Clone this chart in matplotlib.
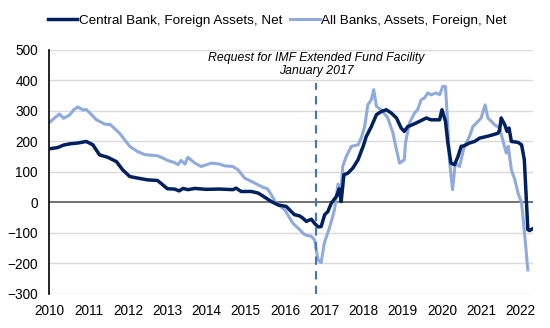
import matplotlib.pyplot as plt

plt.rcParams['font.family'] = ['Liberation Sans', 'DejaVu Sans']

# Central Bank, Foreign Assets, Net (date as decimal year, value)
cb_dates = [2010.0, 2010.2, 2010.35, 2010.5, 2010.72, 2010.93, 2011.1, 2011.27, 2011.48, 2011.7,
            2011.86, 2012.04, 2012.24, 2012.5, 2012.75, 2012.88, 2013.0, 2013.18, 2013.3, 2013.4,
            2013.52, 2013.7, 2014.0, 2014.33, 2014.67, 2014.75, 2014.88, 2015.14, 2015.31, 2015.4,
            2015.52, 2015.65, 2015.82, 2016.03, 2016.16, 2016.24, 2016.37, 2016.45, 2016.54, 2016.67,
            2016.75, 2016.84, 2016.92, 2017.01, 2017.09, 2017.18, 2017.31, 2017.38, 2017.43, 2017.5,
            2017.6, 2017.73, 2017.86, 2017.99, 2018.07, 2018.2, 2018.33, 2018.45, 2018.58, 2018.71,
            2018.84, 2018.96, 2019.04, 2019.13, 2019.25, 2019.43, 2019.6, 2019.72, 2019.94, 2020.0,
            2020.09, 2020.15, 2020.23, 2020.32, 2020.41, 2020.49, 2020.57, 2020.7, 2020.83, 2020.96,
            2021.13, 2021.3, 2021.43, 2021.47, 2021.51, 2021.6, 2021.66, 2021.71, 2021.77, 2021.94,
            2022.03, 2022.1, 2022.19, 2022.23, 2022.3]
cb_values = [176, 180, 188, 192, 195, 200, 189, 156, 148, 134,
             107, 85, 80, 74, 72, 58, 45, 44, 38, 46,
             42, 46, 43, 44, 42, 47, 36, 36, 31, 24,
             14, 3, -8, -13, -30, -40, -44, -51, -62, -55,
             -68, -80, -79, -40, -30, -2, 20, 45, 3, 91,
             96, 113, 140, 184, 216, 249, 288, 298, 304, 293,
             277, 244, 233, 249, 255, 266, 277, 271, 271, 304,
             266, 195, 129, 124, 151, 184, 186, 195, 200, 211,
             216, 222, 227, 238, 277, 255, 233, 244, 200, 197,
             189, 140, -89, -92, -87]

# All Banks, Assets, Foreign, Net
ab_dates = [2010.0, 2010.15, 2010.25, 2010.35, 2010.5, 2010.62, 2010.72, 2010.85, 2010.93, 2011.05,
            2011.19, 2011.4, 2011.55, 2011.78, 2012.04, 2012.24, 2012.42, 2012.75, 2012.9, 2013.0,
            2013.18, 2013.27, 2013.35, 2013.45, 2013.52, 2013.7, 2013.86, 2014.12, 2014.33, 2014.46,
            2014.67, 2014.8, 2014.97, 2015.14, 2015.31, 2015.43, 2015.55, 2015.65, 2015.77, 2015.99,
            2016.2, 2016.37, 2016.5, 2016.67, 2016.75, 2016.84, 2016.92, 2017.0, 2017.13, 2017.26,
            2017.35, 2017.43, 2017.47, 2017.56, 2017.69, 2017.86, 2017.94, 2018.03, 2018.11, 2018.2,
            2018.26, 2018.33, 2018.45, 2018.62, 2018.75, 2018.84, 2018.92, 2019.04, 2019.07, 2019.17,
            2019.3, 2019.38, 2019.47, 2019.55, 2019.64, 2019.72, 2019.85, 2019.94, 2020.02, 2020.09,
            2020.15, 2020.19, 2020.27, 2020.34, 2020.45, 2020.57, 2020.7, 2020.79, 2020.92, 2021.0,
            2021.1, 2021.17, 2021.26, 2021.34, 2021.47, 2021.57, 2021.64, 2021.69, 2021.77, 2021.86,
            2021.94, 2022.03, 2022.09, 2022.19]
ab_values = [263, 280, 290, 276, 286, 305, 313, 303, 305, 290,
             271, 257, 255, 227, 184, 167, 157, 153, 145, 138,
             131, 124, 138, 126, 148, 129, 118, 129, 126, 120,
             118, 107, 80, 69, 58, 50, 45, 25, -2, -24,
             -68, -89, -106, -111, -122, -188, -197, -133, -84, -24,
             60, 42, 118, 151, 184, 189, 211, 249, 320, 337,
             370, 315, 304, 277, 228, 173, 129, 140, 195, 260,
             293, 304, 337, 342, 359, 353, 359, 353, 380, 380,
             249, 140, 42, 129, 118, 184, 216, 249, 266, 277,
             320, 277, 266, 255, 244, 195, 162, 184, 107, 74,
             31, -2, -79, -221]

year_ticks = list(range(2010, 2023))
y_ticks = [-300, -200, -100, 0, 100, 200, 300, 400, 500]
event_date = 2016.8

dark = '#002060'
light = '#8FAADC'

fig = plt.figure(figsize=(5.5, 3.28), dpi=100)
ax = fig.add_axes([0.089, 0.1037, 0.88, 0.744])

for y in y_ticks:
    if y != 0:
        ax.axhline(y, color='#D9D9D9', lw=1, zorder=0)
ax.axhline(0, color='#595959', lw=1.2, zorder=1)

ax.plot(cb_dates, cb_values, color=dark, lw=2.5, label='Central Bank, Foreign Assets, Net', zorder=3)
ax.plot(ab_dates, ab_values, color=light, lw=2.2, label='All Banks, Assets, Foreign, Net', zorder=2)

ax.plot([event_date, event_date], [-300, 392], color='#4472C4', lw=1.5,
        linestyle=(0, (4, 3)), zorder=4)
ax.text(event_date, 453, 'Request for IMF Extended Fund Facility\nJanuary 2017',
        ha='center', va='center', style='italic', fontsize=8.8, linespacing=1.1)

ax.set_xlim(2009.98, 2022.32)
ax.set_ylim(-300, 500)
ax.set_xticks(year_ticks)
ax.set_yticks(y_ticks)
ax.tick_params(length=0, labelsize=9.8)
ax.tick_params(axis='y', pad=8)
ax.tick_params(axis='x', pad=7)
for s in ['top', 'right', 'bottom']:
    ax.spines[s].set_visible(False)
ax.spines['left'].set_color('black')
ax.spines['left'].set_linewidth(1.2)

fig.legend(loc='center', bbox_to_anchor=(0.504, 0.936), ncol=2, frameon=False,
           fontsize=9.7, handlelength=2.2, handletextpad=0.1, columnspacing=0.6)

fig.savefig('out.png', dpi=100)
